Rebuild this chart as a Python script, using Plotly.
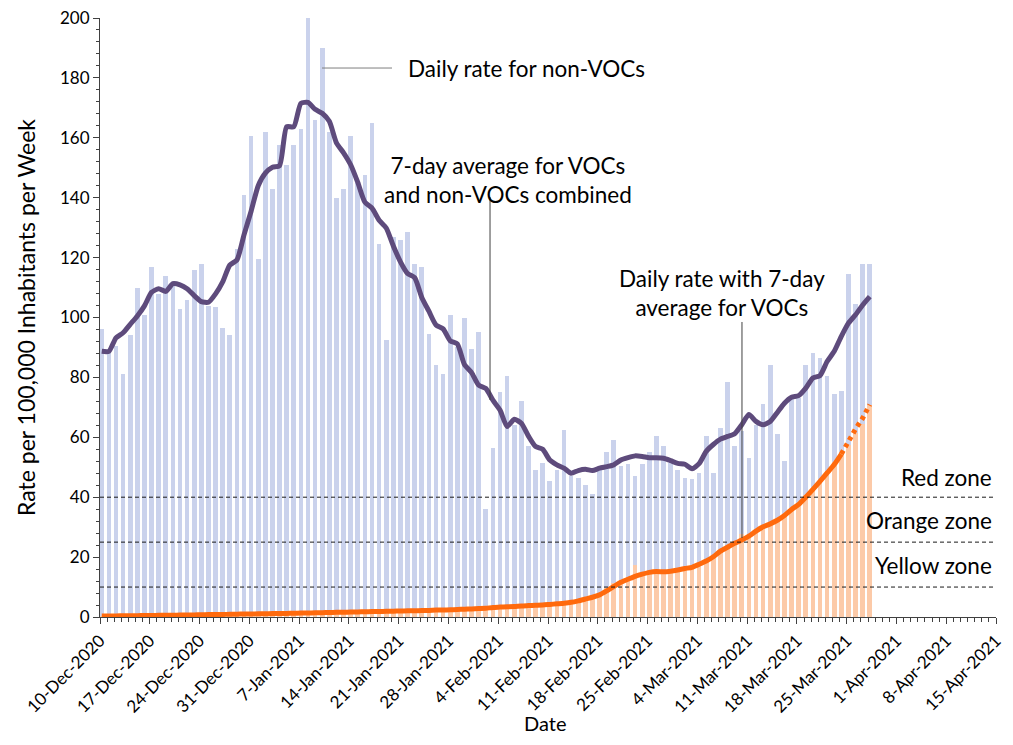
import pandas as pd
import plotly.graph_objects as go

# ---------------- data ----------------
start_date = "2020-12-10"
n_days = 109  # 10-Dec-2020 .. 28-Mar-2021

# Daily rate, VOCs + non-VOCs (top of each blue bar)
total_rate = [
    96, 89, 90.5, 81, 94, 110, 101, 117, 108, 114,
    111, 103, 106, 116, 118, 104, 103.5, 96.5, 94, 123,
    141, 160.5, 119.5, 162, 143, 157.5, 151, 157.5, 163, 200,
    166, 190, 162, 140, 143, 160.5, 145, 147.5, 165, 124.5,
    92.5, 127, 126, 128.5, 118, 117, 94.5, 84, 81, 101,
    90, 100, 89.5, 95, 36, 56.5, 75, 80.5, 64, 72,
    57, 49, 51.5, 45.5, 49, 62.5, 47, 46.5, 44, 41,
    49, 55, 59, 50.5, 51, 47, 51, 55, 60.5, 57,
    51.5, 49, 46.5, 46, 48, 60.5, 48, 63, 78.5, 57,
    62, 53, 64, 71, 84, 61, 52, 73, 73, 84,
    88, 86.5, 80.5, 74.5, 75.5, 114.5, 104.5, 118, 118,
]

# Daily rate for VOCs (orange bars)
voc_rate = [
    0.2, 0.4, 0.3, 0.3, 0.5, 0.4, 0.6, 0.4, 0.5, 0.7,
    0.6, 0.5, 0.8, 0.7, 0.6, 0.9, 0.8, 0.7, 1.0, 0.9,
    1.1, 1.0, 1.2, 1.0, 1.3, 1.1, 1.2, 1.4, 1.3, 1.5,
    1.4, 1.6, 1.5, 1.7, 1.6, 1.8, 1.7, 1.9, 1.8, 2.0,
    2.0, 2.1, 2.2, 2.0, 2.3, 2.2, 2.4, 2.5, 2.3, 2.6,
    2.7, 2.5, 2.8, 2.9, 2.6, 3.2, 3.0, 3.4, 3.3, 3.6,
    3.5, 3.9, 3.7, 4.2, 4.5, 4.4, 5.2, 5.6, 6.5, 7.0,
    8.1, 9.6, 11.4, 12.3, 13.5, 17.4, 14.6, 15.3, 14.8, 15.4,
    15.0, 16.1, 16.4, 16.9, 17.5, 18.9, 20.3, 22.4, 23.1, 24.9,
    27.8, 26.5, 29.2, 30.4, 31.0, 32.8, 34.2, 36.5, 38.0, 40.6,
    43.1, 45.5, 48.9, 51.6, 55.2, 57.5, 61.4, 64.6, 70.9,
]

# 7-day average, VOCs and non-VOCs combined (purple line)
avg_combined = [
    88.7, 88.7, 93.2, 94.9, 97.7, 100.5, 103.9, 108.4, 109.6, 108.7,
    111.3, 110.9, 109.6, 107.3, 105.3, 105.1, 107.9, 111.9, 117.5, 119.2,
    127.6, 135.5, 144.0, 148.2, 150.2, 150.7, 163.7, 163.7, 171.5, 171.8,
    169.5, 168.2, 165.5, 158.3, 155.0, 151.0, 145.1, 138.5, 136.5, 132.5,
    129.9, 123.9, 118.6, 114.7, 113.3, 106.7, 102.1, 97.5, 96.2, 92.2,
    91.2, 84.3, 81.6, 77.4, 76.3, 72.4, 69.1, 63.6, 66.0, 64.7,
    60.4, 56.9, 56.0, 52.4, 50.8, 49.7, 48.0, 48.9, 49.3, 48.9,
    49.7, 50.2, 50.8, 52.4, 53.2, 53.8, 53.6, 53.2, 53.2, 53.0,
    52.2, 51.3, 51.0, 49.5, 51.2, 55.3, 57.6, 59.4, 60.3, 61.2,
    64.2, 67.6, 65.3, 64.2, 65.3, 68.3, 71.4, 73.4, 73.9, 76.4,
    79.8, 80.6, 85.3, 88.7, 93.7, 98.1, 100.9, 104.2, 107.0,
]

# 7-day average for VOCs (orange line); last points drawn dotted
avg_voc = [
    0.3, 0.3, 0.35, 0.4, 0.4, 0.45, 0.5, 0.5, 0.55, 0.6,
    0.6, 0.65, 0.7, 0.7, 0.75, 0.8, 0.8, 0.85, 0.9, 0.95,
    1.0, 1.0, 1.05, 1.1, 1.15, 1.2, 1.2, 1.25, 1.3, 1.35,
    1.4, 1.45, 1.5, 1.55, 1.6, 1.65, 1.7, 1.75, 1.8, 1.85,
    1.9, 1.95, 2.0, 2.05, 2.1, 2.15, 2.2, 2.3, 2.35, 2.4,
    2.5, 2.6, 2.7, 2.8, 2.9, 3.2, 3.3, 3.4, 3.5, 3.7,
    3.8, 3.9, 4.0, 4.2, 4.4, 4.6, 4.9, 5.4, 6.0, 6.6,
    7.4, 8.7, 10.2, 11.6, 12.6, 13.6, 14.3, 14.9, 15.2, 15.1,
    15.3, 15.7, 16.2, 16.6, 17.6, 18.7, 20.1, 22.0, 23.3, 24.6,
    25.7, 27.0, 28.7, 30.1, 31.1, 32.3, 33.9, 35.9, 37.6, 40.0,
    42.6, 45.3, 48.1, 50.9, 54.4, 58.7, 62.8, 66.4, 70.9,
]
n_solid = 105  # points 0..104 solid, 104..108 dotted

zone_levels = [40, 25, 10]
zone_labels = ["Red zone", "Orange zone", "Yellow zone"]

y_ticks = [0, 20, 40, 60, 80, 100, 120, 140, 160, 180, 200]
axis_start = "2020-12-10"
axis_end = "2021-04-15"
tick_step_days = 7

# ---------------- build ----------------
dates = pd.date_range(start_date, periods=n_days, freq="D")
xpos = dates + pd.Timedelta(hours=6)
nonvoc_rate = [t - v for t, v in zip(total_rate, voc_rate)]

tickvals = pd.date_range(axis_start, axis_end, freq=f"{tick_step_days}D")

FONT = "Lato"
BLUE = "#CAD2EC"
PEACH = "#FCCAA8"
ORANGE = "#FF6A0D"
PURPLE = "#5E4B7C"
day_ms = 86400000
ANN = 22.5

fig = go.Figure()
fig.add_trace(go.Bar(x=xpos, y=voc_rate, marker=dict(color=PEACH, line=dict(width=0)),
                     width=0.66 * day_ms, name="VOCs"))
fig.add_trace(go.Bar(x=xpos, y=nonvoc_rate, marker=dict(color=BLUE, line=dict(width=0)),
                     width=0.66 * day_ms, name="non-VOCs"))
fig.add_trace(go.Scatter(x=xpos, y=avg_combined, mode="lines",
                         line=dict(color=PURPLE, width=5, shape="spline", smoothing=0.6),
                         name="7-day average"))
fig.add_trace(go.Scatter(x=xpos[:n_solid], y=avg_voc[:n_solid], mode="lines",
                         line=dict(color=ORANGE, width=5, shape="spline", smoothing=0.6),
                         name="VOC 7-day"))
fig.add_trace(go.Scatter(x=xpos[n_solid - 1:], y=avg_voc[n_solid - 1:], mode="lines",
                         line=dict(color=ORANGE, width=5, dash="4px,4px"),
                         name="VOC 7-day (dotted)"))

for lvl in zone_levels:
    fig.add_shape(type="line", xref="paper", x0=0, x1=0.997, yref="y", y0=lvl, y1=lvl,
                  line=dict(color="#1a1a1a", width=1, dash="4px,3px"), layer="above")

label_y = [0.2337, 0.1619, 0.0868]
for txt, yy in zip(zone_labels, label_y):
    fig.add_annotation(text=txt, xref="paper", yref="paper", x=0.998, y=yy,
                       xanchor="right", yanchor="middle", showarrow=False,
                       font=dict(family=FONT, size=ANN, color="#000"))

# callouts
fig.add_shape(type="line", xref="paper", yref="paper", x0=0.2478, x1=0.3259, y0=0.9165, y1=0.9165,
              line=dict(color="#7f7f7f", width=1))
fig.add_annotation(text="Daily rate for non-VOCs", xref="paper", yref="paper", x=0.3415, y=0.9165,
                   xanchor="left", yanchor="middle", showarrow=False,
                   font=dict(family=FONT, size=ANN, color="#000"))
fig.add_annotation(text="7-day average for VOCs<br>and non-VOCs combined", xref="paper", yref="paper",
                   x=0.4554, y=0.7295, xanchor="center", yanchor="middle", showarrow=False,
                   font=dict(family=FONT, size=ANN, color="#000"))
fig.add_shape(type="line", xref="paper", yref="paper", x0=0.4353, x1=0.4353, y0=0.7012, y1=0.3623,
              line=dict(color="#404040", width=1))
fig.add_annotation(text="Daily rate with 7-day<br>average for VOCs", xref="paper", yref="paper",
                   x=0.6942, y=0.5409, xanchor="center", yanchor="middle", showarrow=False,
                   font=dict(family=FONT, size=ANN, color="#000"))
fig.add_shape(type="line", xref="paper", yref="paper", x0=0.7165, x1=0.7165, y0=0.4925, y1=0.1319,
              line=dict(color="#404040", width=1))

# x-axis title placed as annotation so it stays inside the page
fig.add_annotation(text="Date", xref="paper", yref="paper", x=0.4967, y=-0.1770,
                   xanchor="center", yanchor="middle", showarrow=False,
                   font=dict(family=FONT, size=20, color="#000"))

# The page body has an 8px margin: size the figure so the plot area lands where the reference has it
fig.update_layout(
    width=997, height=729,
    margin=dict(l=92, r=9, t=10, b=120),
    barmode="stack", bargap=0,
    showlegend=False,
    plot_bgcolor="white", paper_bgcolor="white",
    font=dict(family=FONT, size=17, color="#000"),
)
fig.update_xaxes(
    type="date", range=[axis_start, axis_end], automargin=False,
    tickmode="array", tickvals=tickvals, tickformat="%-d-%b-%Y", tickangle=-45,
    ticks="outside", ticklen=6, tickcolor="#404040", tickwidth=1,
    minor=dict(dtick=day_ms, ticks="outside", ticklen=4, tickcolor="#404040", tick0=axis_start),
    showline=True, linecolor="#404040", linewidth=1, showgrid=False, zeroline=False,
    tickfont=dict(family=FONT, size=17), ticklabeloverflow="allow",
)
fig.update_yaxes(
    range=[0, 200], tickmode="array", tickvals=y_ticks, automargin=False,
    ticks="outside", ticklen=6, tickcolor="#404040", tickwidth=1,
    minor=dict(dtick=4, tick0=0, ticks="outside", ticklen=3, tickcolor="#404040"),
    showline=True, linecolor="#404040", linewidth=1, showgrid=False, zeroline=False,
    title=dict(text="Rate per 100,000 Inhabitants per Week", font=dict(family=FONT, size=23), standoff=17),
    tickfont=dict(family=FONT, size=17), ticklabeloverflow="allow",
)

fig.write_html("out.html")
